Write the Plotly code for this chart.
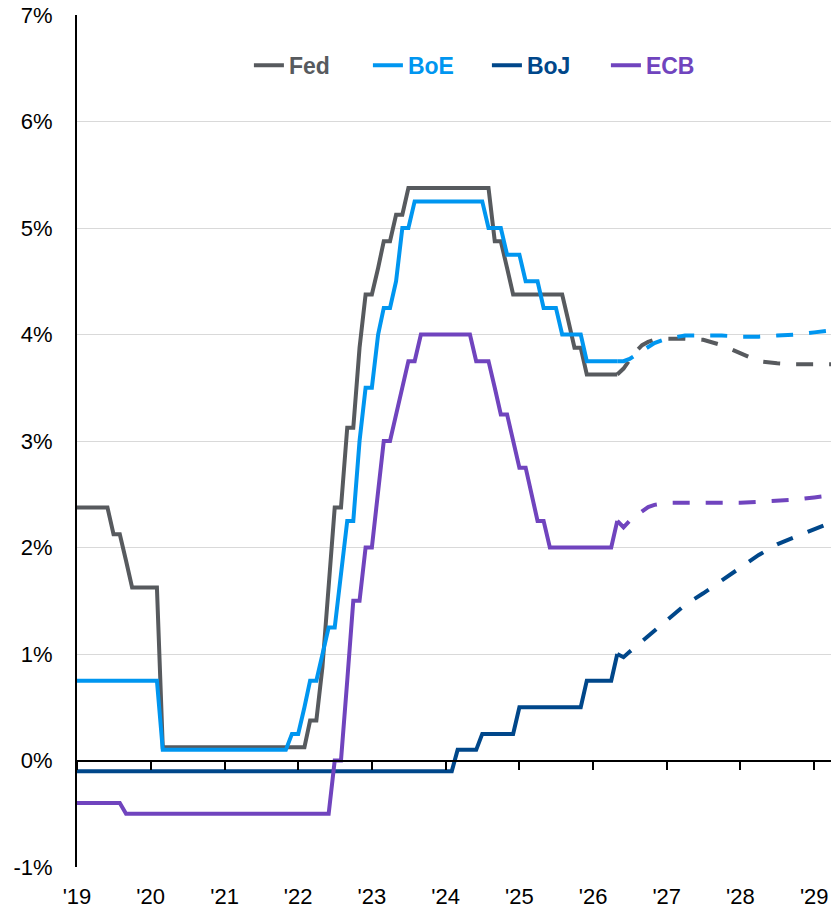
import plotly.graph_objects as go
import pandas as pd

# ---------------- data ----------------
# monthly actuals, Jan 2019 .. May 2026 (one row per year)
months = pd.date_range("2019-01-01", "2026-05-01", freq="MS")

fed = [
    2.375, 2.375, 2.375, 2.375, 2.375, 2.375, 2.125, 2.125, 1.875, 1.625, 1.625, 1.625,
    1.625, 1.625, 0.125, 0.125, 0.125, 0.125, 0.125, 0.125, 0.125, 0.125, 0.125, 0.125,
    0.125, 0.125, 0.125, 0.125, 0.125, 0.125, 0.125, 0.125, 0.125, 0.125, 0.125, 0.125,
    0.125, 0.125, 0.375, 0.375, 0.875, 1.625, 2.375, 2.375, 3.125, 3.125, 3.875, 4.375,
    4.375, 4.625, 4.875, 4.875, 5.125, 5.125, 5.375, 5.375, 5.375, 5.375, 5.375, 5.375,
    5.375, 5.375, 5.375, 5.375, 5.375, 5.375, 5.375, 5.375, 4.875, 4.875, 4.625, 4.375,
    4.375, 4.375, 4.375, 4.375, 4.375, 4.375, 4.375, 4.375, 4.125, 3.875, 3.875, 3.625,
    3.625, 3.625, 3.625, 3.625, 3.625,
]
boe = [
    0.75, 0.75, 0.75, 0.75, 0.75, 0.75, 0.75, 0.75, 0.75, 0.75, 0.75, 0.75,
    0.75, 0.75, 0.1, 0.1, 0.1, 0.1, 0.1, 0.1, 0.1, 0.1, 0.1, 0.1,
    0.1, 0.1, 0.1, 0.1, 0.1, 0.1, 0.1, 0.1, 0.1, 0.1, 0.1, 0.25,
    0.25, 0.5, 0.75, 0.75, 1.0, 1.25, 1.25, 1.75, 2.25, 2.25, 3.0, 3.5,
    3.5, 4.0, 4.25, 4.25, 4.5, 5.0, 5.0, 5.25, 5.25, 5.25, 5.25, 5.25,
    5.25, 5.25, 5.25, 5.25, 5.25, 5.25, 5.25, 5.0, 5.0, 5.0, 4.75, 4.75,
    4.75, 4.5, 4.5, 4.5, 4.25, 4.25, 4.25, 4.0, 4.0, 4.0, 4.0, 3.75,
    3.75, 3.75, 3.75, 3.75, 3.75,
]
boj = [
    -0.1, -0.1, -0.1, -0.1, -0.1, -0.1, -0.1, -0.1, -0.1, -0.1, -0.1, -0.1,
    -0.1, -0.1, -0.1, -0.1, -0.1, -0.1, -0.1, -0.1, -0.1, -0.1, -0.1, -0.1,
    -0.1, -0.1, -0.1, -0.1, -0.1, -0.1, -0.1, -0.1, -0.1, -0.1, -0.1, -0.1,
    -0.1, -0.1, -0.1, -0.1, -0.1, -0.1, -0.1, -0.1, -0.1, -0.1, -0.1, -0.1,
    -0.1, -0.1, -0.1, -0.1, -0.1, -0.1, -0.1, -0.1, -0.1, -0.1, -0.1, -0.1,
    -0.1, -0.1, 0.1, 0.1, 0.1, 0.1, 0.25, 0.25, 0.25, 0.25, 0.25, 0.25,
    0.5, 0.5, 0.5, 0.5, 0.5, 0.5, 0.5, 0.5, 0.5, 0.5, 0.5, 0.75,
    0.75, 0.75, 0.75, 0.75, 1.0,
]
ecb = [
    -0.4, -0.4, -0.4, -0.4, -0.4, -0.4, -0.4, -0.4, -0.5, -0.5, -0.5, -0.5,
    -0.5, -0.5, -0.5, -0.5, -0.5, -0.5, -0.5, -0.5, -0.5, -0.5, -0.5, -0.5,
    -0.5, -0.5, -0.5, -0.5, -0.5, -0.5, -0.5, -0.5, -0.5, -0.5, -0.5, -0.5,
    -0.5, -0.5, -0.5, -0.5, -0.5, -0.5, 0.0, 0.0, 0.75, 1.5, 1.5, 2.0,
    2.0, 2.5, 3.0, 3.0, 3.25, 3.5, 3.75, 3.75, 4.0, 4.0, 4.0, 4.0,
    4.0, 4.0, 4.0, 4.0, 4.0, 3.75, 3.75, 3.75, 3.5, 3.25, 3.25, 3.0,
    2.75, 2.75, 2.5, 2.25, 2.25, 2.0, 2.0, 2.0, 2.0, 2.0, 2.0, 2.0,
    2.0, 2.0, 2.0, 2.0, 2.25,
]

# market-implied paths (dashed)
fc_dates = ["2026-05-01", "2026-06-01", "2026-07-01", "2026-08-01", "2026-09-01",
            "2026-10-01", "2026-11-01", "2027-01-01", "2027-04-01", "2027-07-01",
            "2027-10-01", "2028-01-01", "2028-04-01", "2028-07-01", "2028-10-01",
            "2029-01-01", "2029-04-01"]
fed_fc = [3.625, 3.68, 3.76, 3.84, 3.90, 3.93, 3.95, 3.96, 3.96, 3.95, 3.90, 3.82, 3.75, 3.73, 3.72, 3.72, 3.72]
boe_fc = [3.75, 3.75, 3.77, 3.81, 3.85, 3.89, 3.92, 3.96, 3.99, 3.99, 3.99, 3.98, 3.98, 3.99, 4.00, 4.02, 4.04]
boj_fc = [1.0, 0.97, 1.02, 1.07, 1.11, 1.16, 1.21, 1.31, 1.46, 1.57, 1.69, 1.81, 1.93, 2.03, 2.10, 2.17, 2.24]
ecb_fc = [2.25, 2.19, 2.25, 2.30, 2.34, 2.38, 2.40, 2.42, 2.42, 2.42, 2.42, 2.42, 2.43, 2.44, 2.45, 2.47, 2.49]

names = ["Fed", "BoE", "BoJ", "ECB"]
colors = ["#575A5E", "#0096F0", "#00478A", "#7044BE"]

year_ticks = ["2019-01-01", "2020-01-01", "2021-01-01", "2022-01-01", "2023-01-01", "2024-01-01",
              "2025-01-01", "2026-01-01", "2027-01-01", "2028-01-01", "2029-01-01"]
year_labels = ["'19", "'20", "'21", "'22", "'23", "'24", "'25", "'26", "'27", "'28", "'29"]
y_ticks = [-1, 0, 1, 2, 3, 4, 5, 6, 7]
y_labels = ["-1%", "0%", "1%", "2%", "3%", "4%", "5%", "6%", "7%"]

x_range = ["2019-01-01", "2029-03-25"]

# ---------------- figure ----------------
fig = go.Figure()
LW = 4
for name, col, act in zip(names, colors, [fed, boe, boj, ecb]):
    fig.add_trace(go.Scatter(
        x=months, y=act, mode="lines", name=f"<b><span style='color:{col}'>{name}</span></b>",
        line=dict(color=col, width=LW), hoverinfo="skip"))
for name, col, fc in zip(names, colors, [fed_fc, boe_fc, boj_fc, ecb_fc]):
    fig.add_trace(go.Scatter(
        x=fc_dates, y=fc, mode="lines", showlegend=False,
        line=dict(color=col, width=LW, dash="17px,16px"), hoverinfo="skip"))

# dummy trace so the tick axis on the zero line is drawn
fig.add_trace(go.Scatter(x=x_range, y=[None, None], xaxis="x2", showlegend=False,
                         mode="lines", hoverinfo="skip"))

fig.update_layout(
    width=831, height=909,
    margin=dict(l=77, r=0, t=15, b=42, autoexpand=False),
    paper_bgcolor="white", plot_bgcolor="white",
    font=dict(family="Liberation Sans, Arial, sans-serif", size=22, color="#000000"),
    showlegend=True,
    legend=dict(orientation="h", x=0.228, xanchor="left", y=0.941, yanchor="middle",
                bgcolor="rgba(0,0,0,0)", font=dict(size=23),
                entrywidth=74, entrywidthmode="pixels",
                traceorder="normal"),
    xaxis=dict(type="date", range=x_range, tickmode="array", tickvals=year_ticks,
               ticktext=year_labels, showgrid=False, zeroline=False, showline=False,
               ticks="", ticklabelstandoff=14, tickfont=dict(size=22), automargin=False,
               ticklabeloverflow="allow"),
    xaxis2=dict(type="date", range=x_range, overlaying="x", anchor="free", position=0.125,
                tickmode="array", tickvals=year_ticks, showticklabels=False,
                ticks="outside", ticklen=8, tickwidth=2, tickcolor="#000000",
                showline=True, linecolor="#000000", linewidth=2, showgrid=False,
                zeroline=False, automargin=False),
    yaxis=dict(range=[-1, 7], tickmode="array", tickvals=y_ticks, ticktext=y_labels,
               showgrid=True, gridcolor="#D9D9D9", gridwidth=1,
               zeroline=True, zerolinecolor="#000000", zerolinewidth=2,
               showline=True, linecolor="#000000", linewidth=2,
               ticks="", ticklabelstandoff=18, tickfont=dict(size=22), automargin=False,
               ticklabeloverflow="allow"),
    hovermode=False,
)

fig.write_html(
    "out.html",
    config={"displayModeBar": False},
    post_script="document.body.style.margin='0';document.documentElement.style.overflow='hidden';",
)
